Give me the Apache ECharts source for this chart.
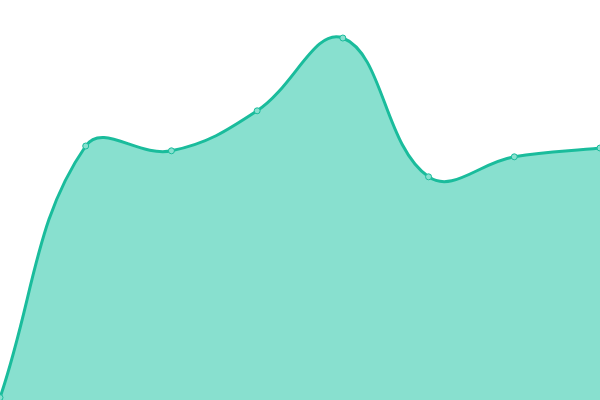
<!DOCTYPE html>
<html>
<head>
<meta charset="utf-8">
<script src="https://cdn.jsdelivr.net/npm/echarts@6/dist/echarts.min.js"></script>
<style>html,body{margin:0;padding:0;background:#fff}#c{width:600px;height:400px}</style>
</head>
<body>
<div id="c"></div>
<script>
const categories = ['1','2','3','4','5','6','7','8'];
const values = [0.6, 63.5, 62.3, 72.3, 90.5, 55.8, 60.8, 63];
const tension = 0.4;

function splinePath(api) {
  const pts = values.map((v, i) => api.coord([i, v]));
  const n = pts.length;
  const cps = pts.map((cur, i) => {
    const prev = i > 0 ? pts[i - 1] : cur;
    const next = i < n - 1 ? pts[i + 1] : cur;
    const d01 = Math.hypot(cur[0] - prev[0], cur[1] - prev[1]);
    const d12 = Math.hypot(next[0] - cur[0], next[1] - cur[1]);
    let s01 = d01 / (d01 + d12), s12 = d12 / (d01 + d12);
    if (!isFinite(s01)) s01 = 0;
    if (!isFinite(s12)) s12 = 0;
    const fa = tension * s01, fb = tension * s12;
    return {
      prev: [cur[0] - fa * (next[0] - prev[0]), cur[1] - fa * (next[1] - prev[1])],
      next: [cur[0] + fb * (next[0] - prev[0]), cur[1] + fb * (next[1] - prev[1])]
    };
  });
  let d = 'M' + pts[0][0] + ' ' + pts[0][1];
  for (let i = 1; i < n; i++) {
    const a = cps[i - 1].next, b = cps[i].prev, p = pts[i];
    d += ' C' + a[0] + ' ' + a[1] + ' ' + b[0] + ' ' + b[1] + ' ' + p[0] + ' ' + p[1];
  }
  return {d, pts};
}

const chart = echarts.init(document.getElementById('c'));
chart.setOption({
  animation: false,
  grid: {left: 0, right: 0, top: 0, bottom: 0},
  xAxis: {type: 'category', data: categories, boundaryGap: false, show: false},
  yAxis: {type: 'value', min: 0, max: 100, show: false},
  series: [{
    type: 'custom',
    data: values.map((v, i) => [i, v]),
    clip: false,
    renderItem: function (params, api) {
      if (params.dataIndex !== 0) return null;
      const {d, pts} = splinePath(api);
      const base = api.coord([0, 0])[1];
      const last = pts[pts.length - 1];
      const areaD = d + ' L' + last[0] + ' ' + base + ' L' + pts[0][0] + ' ' + base + ' Z';
      return {
        type: 'group',
        children: [
          {type: 'path', shape: {pathData: areaD}, style: {fill: '#88e0cf', stroke: null}},
          {type: 'path', shape: {pathData: d}, style: {fill: null, stroke: '#1abc9c', lineWidth: 3}}
        ]
      };
    }
  }, {
    type: 'scatter',
    data: values,
    symbol: 'circle',
    symbolSize: 6,
    itemStyle: {color: '#88e0cf', borderColor: '#1abc9c', borderWidth: 1, opacity: 1},
    z: 5
  }]
});
</script>
</body>
</html>
